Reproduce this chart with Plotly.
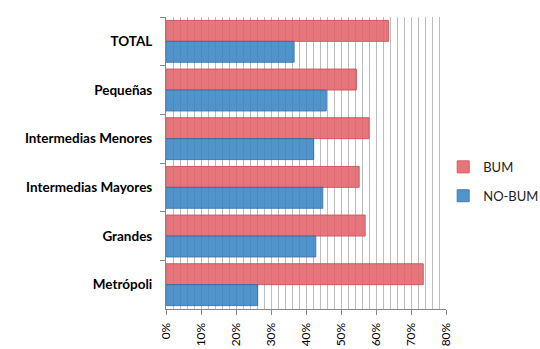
import plotly.graph_objects as go

categories = ["TOTAL", "Pequeñas", "Intermedias Menores", "Intermedias Mayores", "Grandes", "Metrópoli"]
bum = [0.636, 0.544, 0.580, 0.552, 0.569, 0.735]
no_bum = [0.366, 0.458, 0.422, 0.448, 0.428, 0.262]
x_ticks = [0, 0.1, 0.2, 0.3, 0.4, 0.5, 0.6, 0.7, 0.8]

font_family = "Lato, 'Open Sans', sans-serif"

fig = go.Figure()
fig.add_trace(go.Bar(
    y=categories, x=bum, name="BUM", orientation="h",
    legendgroup="a",
    marker=dict(color="#E4646B", line=dict(color="#C8464E", width=1)),
    opacity=0.88,
))
fig.add_trace(go.Bar(
    y=categories, x=no_bum, name="NO-BUM", orientation="h",
    legendgroup="b",
    marker=dict(color="#3A85C4", line=dict(color="#2A6CA6", width=1)),
    opacity=0.88,
))

fig.update_layout(
    width=540, height=349,
    margin=dict(l=166, r=94, t=17, b=40, autoexpand=False),
    barmode="group", bargap=0.14, bargroupgap=0.0,
    plot_bgcolor="white", paper_bgcolor="white",
    font=dict(family=font_family, color="#000000"),
    legend=dict(
        x=0.99, y=0.437, xanchor="left", yanchor="middle",
        font=dict(size=13, color="#222222"),
        traceorder="grouped", tracegroupgap=9,
        itemwidth=30,
    ),
)

fig.update_xaxes(
    range=[0, 0.8],
    tickvals=x_ticks, tickformat=".0%",
    tickangle=-90,
    tickfont=dict(size=12, color="#000000"),
    showgrid=True, gridcolor="#BDBDBD", gridwidth=1,
    minor=dict(dtick=0.02, showgrid=True, gridcolor="#BDBDBD", gridwidth=1),
    showline=True, linecolor="#868686", linewidth=1,
    ticks="outside", ticklen=5, tickcolor="#868686",
    ticklabelstandoff=3,
    zeroline=False,
    automargin=False,
)

fig.update_yaxes(
    autorange="reversed",
    tickfont=dict(size=13.5, color="#000000", weight="bold"),
    showline=True, linecolor="#868686", linewidth=1,
    ticks="outside", ticklen=5, tickcolor="#868686",
    tickson="boundaries",
    ticklabelstandoff=10,
    showgrid=False,
    automargin=False,
)

fig.write_html("out.html")
